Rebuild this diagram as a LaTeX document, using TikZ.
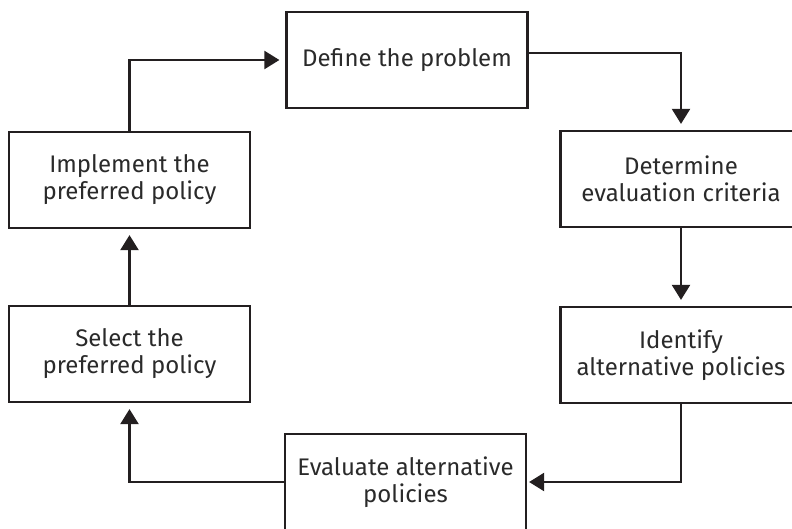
\documentclass[tikz,border=0pt]{standalone}
\usepackage{fontspec}
\setmainfont{Fira Sans}
\usetikzlibrary{arrows.meta,positioning,calc}
\definecolor{linegray}{HTML}{231F20}
\definecolor{darktext}{HTML}{2A2A2A}

\tikzset{
  stage/.style={draw=linegray, line width=2.2pt, minimum width=241pt, minimum height=96pt,
    align=center, text=darktext, font=\fontsize{24}{27}\selectfont, inner sep=0pt},
  flow/.style={draw=linegray, line width=2.2pt, -{Triangle[length=15pt,width=18pt]}, shorten >=6pt}
}

\begin{document}
\begin{tikzpicture}[x=1pt,y=-1pt]
\useasboundingbox (0,0) rectangle (792,529);
% the six stages of the cycle
\node[stage] (define)    at (407,60)    {Define the problem};
\node[stage] (determine) at (681,179)   {Determine\\evaluation criteria};
\node[stage] (identify)  at (681,355)   {Identify\\alternative policies};
\node[stage] (evaluate)  at (405.5,482) {Evaluate alternative\\policies};
\node[stage] (select)    at (129.5,354) {Select the\\preferred policy};
\node[stage] (implement) at (129.5,180) {Implement the\\preferred policy};

% connectors
\draw[flow] (implement.north) |- (define.west);
\draw[flow] ([yshift=7pt]define.east) -| (determine.north);
\draw[flow] (determine.south) -- (identify.north);
\draw[flow, shorten >=2pt] (identify.south) |- (evaluate.east);
\draw[flow] (evaluate.west) -| (select.south);
\draw[flow] (select.north) -- (implement.south);
\end{tikzpicture}
\end{document}
